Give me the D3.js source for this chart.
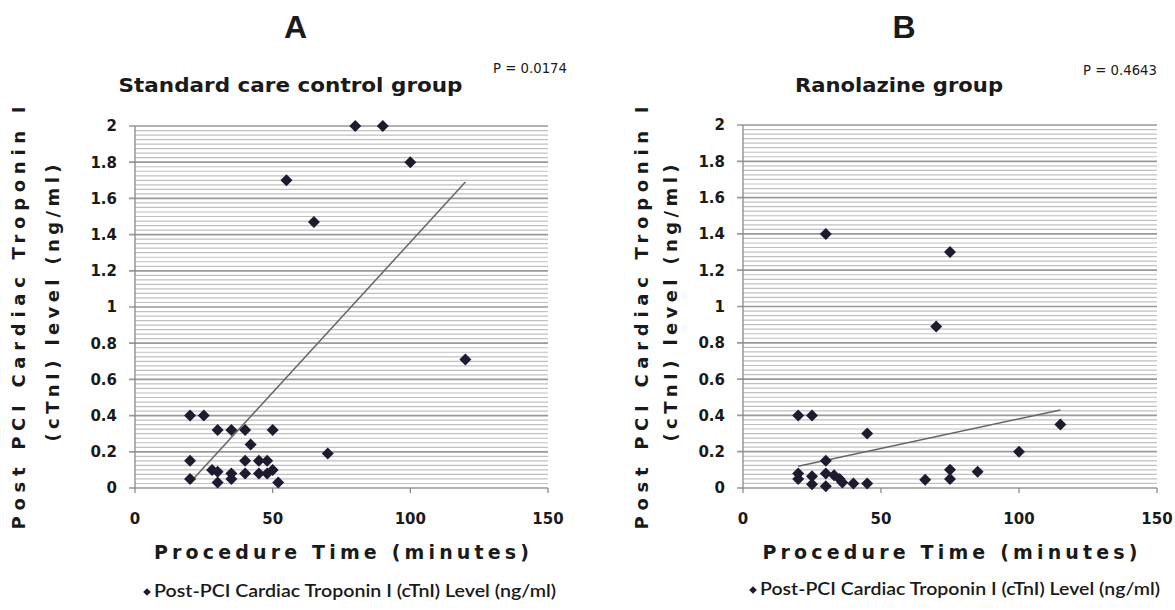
<!DOCTYPE html>
<html><head><meta charset="utf-8">
<script src="https://cdn.jsdelivr.net/npm/d3@7"></script>
<style>body{margin:0;background:#fff}svg{display:block}</style>
</head><body><svg id="c" width="1175" height="610"></svg>
<script>
// ---- data ----
const xTicks = [0, 50, 100, 150];
const yTicks = [0, 0.2, 0.4, 0.6, 0.8, 1, 1.2, 1.4, 1.6, 1.8, 2];
const yMinorStep = 0.025;

const controlTime = [80, 90, 100, 55, 65, 120, 70, 20, 25, 30, 35, 40, 50, 42, 20, 20, 28, 30, 30, 35, 35, 40, 40, 45, 45, 48, 48, 50, 52];
const controlTnI  = [2, 2, 1.8, 1.7, 1.47, 0.71, 0.19, 0.4, 0.4, 0.32, 0.32, 0.32, 0.32, 0.24, 0.15, 0.05, 0.1, 0.09, 0.03, 0.08, 0.05, 0.15, 0.08, 0.15, 0.08, 0.15, 0.08, 0.1, 0.03];
const controlTrendX = [20, 120];
const controlTrendY = [0.03, 1.69];

const ranoTime = [30, 75, 70, 20, 25, 45, 115, 100, 30, 75, 75, 85, 66, 20, 20, 25, 25, 30, 30, 33, 35, 36, 40, 45];
const ranoTnI  = [1.4, 1.3, 0.89, 0.4, 0.4, 0.3, 0.35, 0.2, 0.15, 0.1, 0.05, 0.09, 0.045, 0.08, 0.05, 0.065, 0.02, 0.08, 0.01, 0.07, 0.05, 0.03, 0.025, 0.025];
const ranoTrendX = [20, 115];
const ranoTrendY = [0.12, 0.43];

const panelLetters = ["A", "B"];
const panelTitles = ["Standard care control group", "Ranolazine group"];
const pValues = ["P = 0.0174", "P = 0.4643"];
const xTitle = "Procedure Time (minutes)";
const yTitle1 = "Post PCI Cardiac Troponin I";
const yTitle2 = "(cTnI) level (ng/ml)";
const legendLabel = "Post-PCI Cardiac Troponin I (cTnI) Level (ng/ml)";

// ---- layout ----
const panels = [
  {xs: controlTime, ys: controlTnI, tx: controlTrendX, ty: controlTrendY,
   left: 135, right: 548, top: 126, bottom: 488,
   yt1: 25, yt2: 59, titleW: 344, pX: 493, pY: 73, legX: 147, legY: 597, legW: 402},
  {xs: ranoTime, ys: ranoTnI, tx: ranoTrendX, ty: ranoTrendY,
   left: 743, right: 1157, top: 125, bottom: 488,
   yt1: 648, yt2: 677, titleW: 208, pX: 1083, pY: 75, legX: 753, legY: 595, legW: 400}
];

const svg = d3.select("#c");
const ink = "#1a1a1a";
const boldFont = "'DejaVu Sans', Verdana, sans-serif";

panels.forEach((p, i) => {
  const x = d3.scaleLinear().domain([0, 150]).range([p.left, p.right]);
  const y = d3.scaleLinear().domain([0, 2]).range([p.bottom, p.top]);
  const g = svg.append("g");
  const cx = (p.left + p.right) / 2;

  // minor gridlines
  const minor = d3.range(0, 2 + 1e-9, yMinorStep).filter(v => Math.abs(v / 0.2 - Math.round(v / 0.2)) > 1e-6);
  g.selectAll(".mn").data(minor).join("line")
    .attr("x1", p.left).attr("x2", p.right)
    .attr("y1", d => y(d)).attr("y2", d => y(d))
    .attr("stroke", "#c0c0c0").attr("stroke-width", 1.2);
  // major gridlines
  g.selectAll(".mj").data(yTicks).join("line")
    .attr("x1", p.left - 6).attr("x2", p.right)
    .attr("y1", d => y(d)).attr("y2", d => y(d))
    .attr("stroke", "#999").attr("stroke-width", 1.7);
  // y axis line
  g.append("line").attr("x1", p.left).attr("x2", p.left)
    .attr("y1", y(2)).attr("y2", y(0))
    .attr("stroke", "#8a8a8a").attr("stroke-width", 1.3);
  // x tick marks
  g.selectAll(".xt").data(xTicks).join("line")
    .attr("x1", d => x(d)).attr("x2", d => x(d))
    .attr("y1", y(0)).attr("y2", y(0) + 5)
    .attr("stroke", "#8a8a8a").attr("stroke-width", 1.3);

  // tick labels
  g.selectAll(".yl").data(yTicks).join("text")
    .attr("x", p.left - 18).attr("y", d => y(d)).attr("dy", "0.36em")
    .attr("text-anchor", "end").attr("font-family", boldFont)
    .attr("font-weight", "bold").attr("font-size", 15).attr("fill", ink)
    .text(d => d3.format("~g")(d));
  g.selectAll(".xl").data(xTicks).join("text")
    .attr("x", d => x(d)).attr("y", 524)
    .attr("text-anchor", "middle").attr("font-family", boldFont)
    .attr("font-weight", "bold").attr("font-size", 15).attr("fill", ink)
    .text(d => d);

  // trend line
  g.append("line")
    .attr("x1", x(p.tx[0])).attr("y1", y(p.ty[0]))
    .attr("x2", x(p.tx[1])).attr("y2", y(p.ty[1]))
    .attr("stroke", "#666").attr("stroke-width", 1.5);

  // markers
  const sym = d3.symbol(d3.symbolSquare, 72);
  g.selectAll(".pt").data(p.xs.map((v, k) => [v, p.ys[k]])).join("path")
    .attr("d", sym)
    .attr("transform", d => `translate(${x(d[0])},${y(d[1])}) rotate(45)`)
    .attr("fill", "#1f1a30");

  // panel letter
  g.append("text").attr("x", cx - 46).attr("y", 38).attr("text-anchor", "middle")
    .attr("font-family", "'Liberation Sans', Arial, sans-serif").attr("font-weight", "bold")
    .attr("font-size", 32).attr("fill", ink).text(panelLetters[i]);
  // title
  g.append("text").attr("x", cx - 51).attr("y", 92).attr("text-anchor", "middle")
    .attr("font-family", boldFont).attr("font-weight", "bold").attr("font-size", 20)
    .attr("textLength", p.titleW).attr("lengthAdjust", "spacingAndGlyphs")
    .attr("fill", ink).text(panelTitles[i]);
  // p value
  g.append("text").attr("x", p.pX).attr("y", p.pY)
    .attr("font-family", boldFont).attr("font-size", 13.5)
    .attr("textLength", 74).attr("lengthAdjust", "spacingAndGlyphs")
    .attr("fill", ink).text(pValues[i]);

  // x title
  g.append("text").attr("x", cx).attr("y", 559).attr("text-anchor", "middle")
    .attr("font-family", boldFont).attr("font-weight", "bold").attr("font-size", 19)
    .attr("textLength", 375).attr("lengthAdjust", "spacing")
    .attr("fill", ink).text(xTitle);
  // y titles
  g.append("text").attr("transform", `translate(${p.yt1},318) rotate(-90)`)
    .attr("text-anchor", "middle").attr("font-family", boldFont).attr("font-weight", "bold")
    .attr("font-size", 18).attr("textLength", 423).attr("lengthAdjust", "spacing")
    .attr("fill", ink).text(yTitle1);
  g.append("text").attr("transform", `translate(${p.yt2},303) rotate(-90)`)
    .attr("text-anchor", "middle").attr("font-family", boldFont).attr("font-weight", "bold")
    .attr("font-size", 18).attr("textLength", 277).attr("lengthAdjust", "spacing")
    .attr("fill", ink).text(yTitle2);

  // legend
  g.append("path").attr("d", d3.symbol(d3.symbolSquare, 30))
    .attr("transform", `translate(${p.legX},${p.legY - 5}) rotate(45)`)
    .attr("fill", "#1f1a30");
  g.append("text").attr("x", p.legX + 7).attr("y", p.legY)
    .attr("font-family", "Lato, 'Open Sans', sans-serif").attr("font-size", 16.5)
    .attr("font-weight", 600)
    .attr("textLength", p.legW).attr("lengthAdjust", "spacingAndGlyphs")
    .attr("fill", ink).text(legendLabel);
});
</script>
</body></html>
